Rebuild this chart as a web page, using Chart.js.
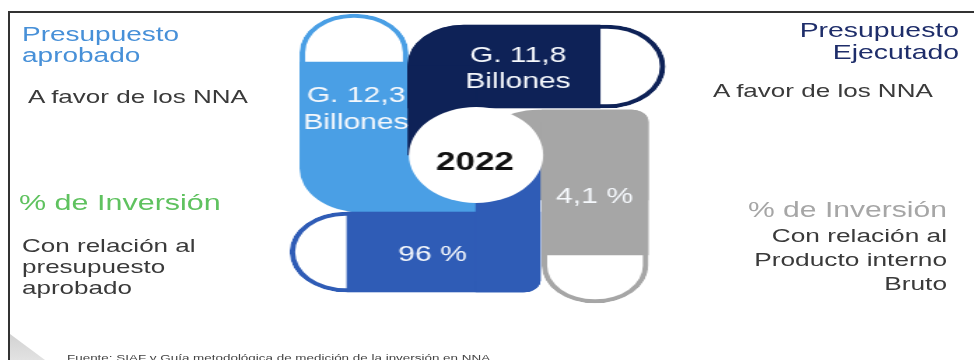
<!DOCTYPE html>
<html lang="es">
<head>
<meta charset="utf-8">
<title>Inversión en NNA 2022</title>
<script src="https://cdn.jsdelivr.net/npm/chart.js@4.4.1/dist/chart.umd.min.js"></script>
<style>
  html, body { margin: 0; padding: 0; background: #fff; }
  body { width: 974px; height: 360px; position: relative; overflow: hidden;
         font-family: "Liberation Sans", Arial, sans-serif; }
  #marco { position: absolute; left: 8px; top: 11px; width: 966px; height: 349px;
           border-top: 2px solid #333; border-left: 2px solid #333; box-sizing: border-box; }
  #cuna { position: absolute; left: 10px; top: 334px; width: 35px; height: 26px;
          background: linear-gradient(#d2d2d2, #e2e2e2);
          clip-path: polygon(0 0, 0 100%, 100% 100%); }
  /* the board is laid out narrow and stretched sideways */
  #lienzo { position: absolute; left: 0; top: 0; width: 696px; height: 360px;
            transform: scaleX(1.399425); transform-origin: 0 0; }
  #lienzo canvas { position: absolute; left: 0; top: 0; }
  .txt { position: absolute; white-space: nowrap; }
</style>
</head>
<body>
<div id="marco"></div>
<div id="cuna"></div>
<div id="lienzo"><canvas id="grafico" width="696" height="360"></canvas></div>

<script>
// datos
const anio = '2022';
const titulos = [['Presupuesto', 'aprobado'], ['Presupuesto', 'Ejecutado'], ['% de Inversión'], ['% de Inversión']];
const detalles = [['A favor de los NNA'], ['A favor de los NNA'],
                  ['Con relación al', 'presupuesto', 'aprobado'],
                  ['Con relación al', 'Producto interno', 'Bruto']];
const valores = [12.3, 11.8, 96, 4.1];
const unidades = ['Billones', 'Billones', '%', '%'];
const fuente = 'Fuente: SIAF y Guía metodológica de medición de la inversión en NNA';

// colores de cada pastilla: aprobado, ejecutado, % presupuesto, % PIB
const colores = ['#4a9fe5', '#0e2257', '#2f5cb6', '#a6a6a6'];

const S = 974 / 696;   // horizontal stretch
const FUENTE = '"Liberation Sans", Arial, sans-serif';

// posiciones de los textos laterales (px de pantalla)
const posTit = [
  {x: 22, base: 41.7, fs: 20, lh: 21},
  {right: 959, base: 38.3, fs: 20.3, lh: 21.7},
  {x: 19, base: 210, fs: 21.8},
  {right: 947, base: 217.7, fs: 21.5}
];
const colTit = ['#4790d8', '#1e2d6a', '#5fc25f', '#a6a6a6'];
const posDet = [
  {x: 28, base: 102.7, fs: 18.6},
  {x: 713, base: 97.3, fs: 18.6},
  {x: 22, base: 251.7, fs: 18.6, lh: 21},
  {right: 947, base: 242.3, fs: 18.8, lh: 24.4}
];
// posiciones de los rótulos dentro de las pastillas
const posVal = [
  {x: 356, base: 102, lh: 27},
  {x: 518, base: 62, lh: 26},
  {x: 432.5, base: 260.5},
  {x: 594.5, base: 203}
];

const lienzo = document.getElementById('lienzo');

function texto(lineas, p, color) {
  const d = document.createElement('div');
  d.className = 'txt';
  const lh = p.lh || p.fs * 1.15;
  d.style.fontSize = p.fs + 'px';
  d.style.lineHeight = lh + 'px';
  d.style.color = color;
  d.style.top = (p.base - ((lh - 1.117 * p.fs) / 2 + 0.905 * p.fs)) + 'px';
  if (p.right !== undefined) {
    d.style.right = ((974 - p.right) / S) + 'px';
    d.style.textAlign = 'right';
  } else {
    d.style.left = (p.x / S) + 'px';
  }
  lineas.forEach((l, k) => {
    if (k) d.appendChild(document.createElement('br'));
    d.appendChild(document.createTextNode(l));
  });
  lienzo.appendChild(d);
}

titulos.forEach((t, i) => texto(t, posTit[i], colTit[i]));
detalles.forEach((t, i) => texto(t, posDet[i], '#3a3a3a'));
texto([fuente], {x: 67, base: 360.8, fs: 9.6}, '#444');

const fmt = v => String(v).replace('.', ',');
const rotulos = valores.map((v, i) =>
  unidades[i] === '%' ? [fmt(v) + ' %'] : ['G. ' + fmt(v), unidades[i]]);

// one floating bar; 'v' = vertical, 'h' = horizontal
function pieza(eje, centro, grosor, desde, hasta, color, radio, extra) {
  return Object.assign({
    type: 'bar',
    indexAxis: eje === 'v' ? 'x' : 'y',
    data: [eje === 'v' ? {x: centro, y: [desde, hasta]} : {y: centro, x: [desde, hasta]}],
    barThickness: eje === 'v' ? grosor / S : grosor,
    backgroundColor: color,
    borderWidth: 0,
    borderRadius: radio,
    borderSkipped: false,
    grouped: false
  }, extra || {});
}
const contorno = c => ({backgroundColor: '#fff', borderColor: c, borderWidth: 4});

const [cAp, cEj, cPr, cPib] = colores;
// from bottom layer to top layer
const capas = [
  // presupuesto aprobado
  pieza('v', 354, 108, 14, 130, '#fff', {topLeft: 40, topRight: 40, bottomLeft: 0, bottomRight: 0}, contorno(cAp)),
  pieza('v', 388, 176, 62, 212, cAp, {topLeft: 0, topRight: 0, bottomLeft: 44, bottomRight: 0}),
  // presupuesto ejecutado
  pieza('h', 66.5, 83, 408, 665, '#fff', {topLeft: 40, topRight: 42, bottomRight: 42, bottomLeft: 0}, contorno(cEj)),
  pieza('h', 66.5, 83, 408, 600, cEj, {topLeft: 40, topRight: 0, bottomRight: 0, bottomLeft: 0}),
  pieza('v', 442, 68, 66, 155, cEj, 0),
  // % respecto al PIB
  pieza('v', 595, 106, 110, 303, '#fff', {topLeft: 0, topRight: 12, bottomLeft: 40, bottomRight: 40}, contorno(cPib)),
  pieza('h', 155, 90, 476, 648, cPib, {topLeft: 45, topRight: 12, bottomLeft: 0, bottomRight: 0}),
  pieza('v', 595, 106, 110, 255, cPib, {topLeft: 0, topRight: 12, bottomLeft: 0, bottomRight: 0}),
  // % respecto al presupuesto aprobado
  pieza('h', 252, 80, 290, 540, '#fff', {topLeft: 40, bottomLeft: 40, topRight: 0, bottomRight: 12}, contorno(cPr)),
  pieza('h', 252, 80, 347, 540, cPr, {topLeft: 0, bottomLeft: 0, topRight: 0, bottomRight: 12}),
  pieza('v', 508, 64, 155, 292, cPr, {topLeft: 0, bottomLeft: 0, topRight: 10, bottomRight: 12}),
  // year disc in the middle
  {type: 'scatter', data: [{x: 476, y: 155}], pointRadius: 48, pointHoverRadius: 48,
   backgroundColor: '#fff', borderWidth: 0, clip: false}
];
capas.forEach((d, i) => { d.order = capas.length - i; });

const rotulosPlugin = {
  id: 'rotulos',
  afterDatasetsDraw(chart) {
    const {ctx, scales: {x, y}} = chart;
    ctx.save();
    ctx.textAlign = 'center';
    ctx.textBaseline = 'alphabetic';
    ctx.fillStyle = '#f5f8fc';
    ctx.font = '21.5px ' + FUENTE;
    rotulos.forEach((lineas, i) => {
      const p = posVal[i];
      lineas.forEach((l, k) => ctx.fillText(l, x.getPixelForValue(p.x), y.getPixelForValue(p.base + k * (p.lh || 0))));
    });
    ctx.fillStyle = '#111';
    ctx.font = 'bold 25px ' + FUENTE;
    ctx.fillText(anio, x.getPixelForValue(475), y.getPixelForValue(170));
    ctx.restore();
  }
};

new Chart(document.getElementById('grafico'), {
  type: 'bar',
  data: {datasets: capas},
  options: {
    responsive: false,
    maintainAspectRatio: false,
    animation: false,
    events: [],
    layout: {padding: 0, autoPadding: false},
    plugins: {legend: {display: false}, tooltip: {enabled: false}},
    scales: {
      x: {type: 'linear', min: 0, max: 974, display: false, offset: false, stacked: false},
      y: {type: 'linear', min: 0, max: 360, reverse: true, display: false, offset: false, stacked: false}
    }
  },
  plugins: [rotulosPlugin]
});
</script>
</body>
</html>
